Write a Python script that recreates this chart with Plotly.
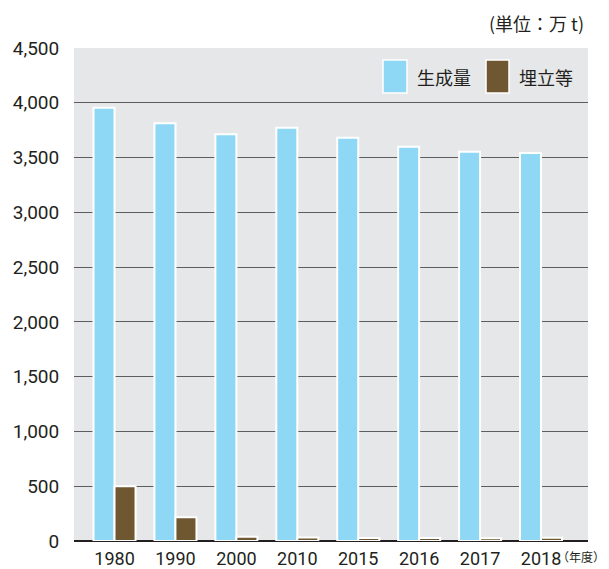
import plotly.graph_objects as go

years = ["1980", "1990", "2000", "2010", "2015", "2016", "2017", "2018"]
generated = [3955, 3812, 3712, 3772, 3681, 3599, 3553, 3541]
landfill = [500, 216, 38, 33, 27, 27, 26, 29]
series_names = ["生成量", "埋立等"]
yticks = [0, 500, 1000, 1500, 2000, 2500, 3000, 3500, 4000, 4500]
ytick_text = ["0", "500", "1,000", "1,500", "2,000", "2,500", "3,000", "3,500", "4,000", "4,500"]

BLUE = "#8ed8f6"
BROWN = "#6e5731"
NUM_FONT = "Liberation Sans Narrow, Roboto, sans-serif"
JP_FONT = "Noto Sans CJK JP, sans-serif"
TXT = "#231f20"

fig = go.Figure()
fig.add_trace(go.Bar(x=years, y=generated, name=series_names[0],
                     marker=dict(color=BLUE, line=dict(color="white", width=2))))
fig.add_trace(go.Bar(x=years, y=landfill, name=series_names[1],
                     marker=dict(color=BROWN, line=dict(color="white", width=2))))

# the page body has an 8px margin; compensate so the picture lands where intended
OFF = 8
W, H = 609 - OFF, 569 - OFF
L, R, T, B = 74 - OFF, 21, 48 - OFF, 28
pw = W - L - R
ph = H - T - B

def px(x):
    return (x - OFF - L) / pw

def py(y):
    return (H - B - (y - OFF)) / ph

# legend (drawn manually: tall swatches)
shapes = [
    dict(type="rect", xref="paper", yref="paper", x0=px(383), x1=px(407), y0=py(93), y1=py(60),
         fillcolor=BLUE, line=dict(color="white", width=1.5)),
    dict(type="rect", xref="paper", yref="paper", x0=px(486), x1=px(509), y0=py(93), y1=py(60),
         fillcolor=BROWN, line=dict(color="white", width=1.5)),
]
annotations = [
    dict(text=series_names[0], xref="paper", yref="paper", x=px(415), y=py(77), xanchor="left",
         yanchor="middle", showarrow=False, font=dict(family=JP_FONT, size=18, color=TXT)),
    dict(text=series_names[1], xref="paper", yref="paper", x=px(517), y=py(77), xanchor="left",
         yanchor="middle", showarrow=False, font=dict(family=JP_FONT, size=18, color=TXT)),
    dict(text="(単位：万 t)", xref="paper", yref="paper", x=px(586), y=py(23), xanchor="right",
         yanchor="middle", showarrow=False, font=dict(family=JP_FONT, size=18, color=TXT)),
    dict(text="（年度）", xref="paper", yref="paper", x=px(555), y=py(556), xanchor="left",
         yanchor="middle", showarrow=False, font=dict(family=JP_FONT, size=12, color=TXT)),
]

fig.update_layout(
    width=W, height=H,
    margin=dict(l=L, r=R, t=T, b=B, pad=0, autoexpand=False),
    paper_bgcolor="white",
    plot_bgcolor="#e6e7e8",
    barmode="group",
    bargap=0.31,
    bargroupgap=0,
    showlegend=False,
    shapes=shapes,
    annotations=annotations,
    font=dict(family=NUM_FONT, color=TXT),
)
fig.update_xaxes(
    type="category",
    automargin=False,
    range=[-0.665, 7.771],
    showgrid=False,
    showline=False,
    zeroline=False,
    ticks="outside", ticklen=1, tickcolor="rgba(0,0,0,0)",
    tickfont=dict(family=NUM_FONT, size=18, color=TXT),
)
fig.update_yaxes(
    automargin=False,
    range=[0, 4500],
    tickvals=yticks,
    ticktext=ytick_text,
    showgrid=True, gridcolor="#5d5d5f", gridwidth=1,
    zeroline=True, zerolinecolor="#231f20", zerolinewidth=2,
    showline=False,
    ticks="outside", ticklen=10, tickcolor="rgba(0,0,0,0)",
    tickfont=dict(family=NUM_FONT, size=19, color=TXT),
    layer="above traces",
)

fig.write_html("out.html")
